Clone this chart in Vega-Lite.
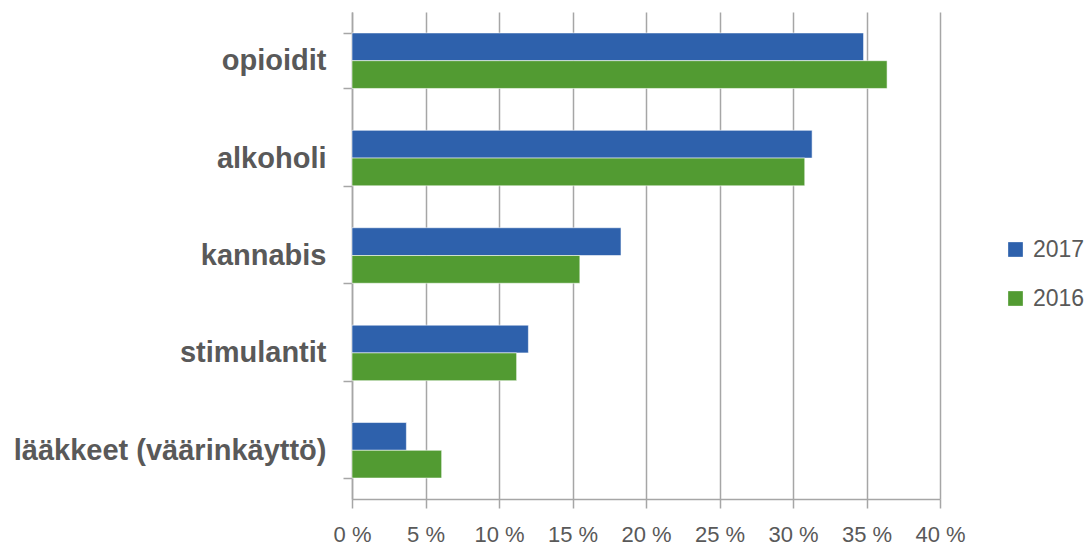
{
  "$schema": "https://vega.github.io/schema/vega-lite/v6.json",
  "autosize": "none",
  "padding": {"left": 352, "top": 12, "right": 147, "bottom": 46},
  "width": 588,
  "height": 487,
  "background": "white",
  "config": {
    "view": {"stroke": null},
    "font": "Liberation Sans"
  },
  "data": {
    "values": [
      {"aine": "opioidit\u00a0", "vuosi": "2017", "osuus": 34.8},
      {"aine": "opioidit\u00a0", "vuosi": "2016", "osuus": 36.4},
      {"aine": "alkoholi", "vuosi": "2017", "osuus": 31.3},
      {"aine": "alkoholi", "vuosi": "2016", "osuus": 30.8},
      {"aine": "kannabis", "vuosi": "2017", "osuus": 18.3},
      {"aine": "kannabis", "vuosi": "2016", "osuus": 15.5},
      {"aine": "stimulantit", "vuosi": "2017", "osuus": 12.0},
      {"aine": "stimulantit", "vuosi": "2016", "osuus": 11.2},
      {"aine": "lääkkeet (väärinkäyttö)", "vuosi": "2017", "osuus": 3.7},
      {"aine": "lääkkeet (väärinkäyttö)", "vuosi": "2016", "osuus": 6.1}
    ]
  },
  "mark": {"type": "bar", "stroke": "white", "strokeWidth": 0.8, "strokeOpacity": 0.7},
  "encoding": {
    "y": {
      "field": "aine",
      "type": "nominal",
      "sort": null,
      "scale": {"paddingInner": 0.43, "paddingOuter": 0.215},
      "axis": {
        "title": null,
        "tickBand": "extent",
        "grid": false,
        "domainColor": "#a6a6a6",
        "domainWidth": 1.5,
        "tickColor": "#a6a6a6",
        "tickWidth": 1.5,
        "tickSize": 9,
        "labelFont": "Liberation Sans",
        "labelFontSize": 29,
        "labelFontWeight": "bold",
        "labelColor": "#595959",
        "labelPadding": 17,
        "labelLimit": 400
      }
    },
    "yOffset": {"field": "vuosi", "type": "nominal", "sort": ["2017", "2016"], "scale": {"paddingInner": 0, "paddingOuter": 0}},
    "x": {
      "field": "osuus",
      "type": "quantitative",
      "scale": {"domain": [0, 40], "nice": false},
      "axis": {
        "title": null,
        "values": [0, 5, 10, 15, 20, 25, 30, 35, 40],
        "labelExpr": "datum.value + ' %'",
        "labelOverlap": false,
        "labelBound": false,
        "labelFlush": false,
        "labelAlign": "center",
        "grid": true,
        "gridColor": "#a6a6a6",
        "gridWidth": 1.5,
        "domainColor": "#a6a6a6",
        "domainWidth": 1.5,
        "tickColor": "#a6a6a6",
        "tickWidth": 1.5,
        "tickSize": 9,
        "labelFont": "Liberation Sans",
        "labelFontSize": 22,
        "labelColor": "#595959",
        "labelPadding": 16
      }
    },
    "color": {
      "field": "vuosi",
      "type": "nominal",
      "sort": ["2017", "2016"],
      "scale": {"domain": ["2017", "2016"], "range": ["#2E61AC", "#529B32"]},
      "legend": {
        "title": null,
        "orient": "none",
        "legendX": 652,
        "legendY": 226,
        "padding": 0,
        "symbolType": "square",
        "symbolSize": 216,
        "symbolStrokeWidth": 0,
        "labelFont": "Liberation Sans",
        "labelFontSize": 23,
        "labelColor": "#595959",
        "labelOffset": 6,
        "rowPadding": 25
      }
    }
  }
}
